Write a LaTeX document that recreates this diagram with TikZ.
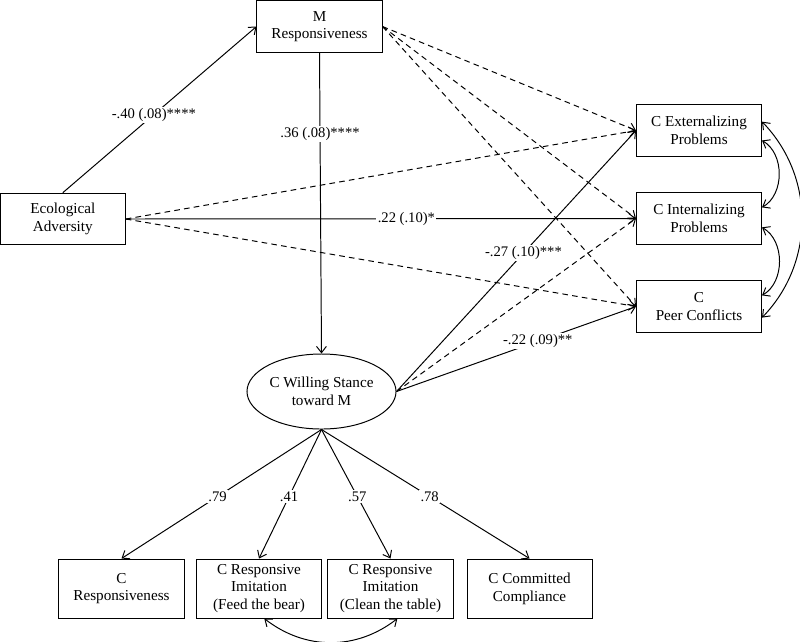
\documentclass[tikz,border=0pt]{standalone}
\usepackage{fontspec}
\setmainfont{Liberation Serif}
\usetikzlibrary{arrows.meta,shapes.geometric}

\begin{document}
\begin{tikzpicture}[x=0.025cm,y=0.025cm]
            \tikzstyle{varbox}=[draw,rectangle,line width=0.7pt,align=center,inner sep=1pt,minimum width=31.25mm,minimum height=12.9mm,font=\fontsize{10.8}{12.6}\selectfont]
            \tikzstyle{indbox}=[varbox,minimum height=14.75mm]
            \tikzstyle{latentvar}=[draw,ellipse,line width=0.7pt,align=center,inner sep=0pt,minimum width=37.25mm,minimum height=18.75mm,font=\fontsize{10.8}{12.6}\selectfont]
            \tikzstyle{regpath}=[line width=0.7pt,-{Straight Barb[length=4.5pt,width=7pt]}]
            \tikzstyle{nspath}=[regpath,dash pattern=on 4pt off 3pt]
            \tikzstyle{covpath}=[line width=0.7pt,{Straight Barb[length=4.5pt,width=7pt]}-{Straight Barb[length=4.5pt,width=7pt]}]
            \tikzstyle{coef}=[fill=white,inner sep=1pt,font=\fontsize{10.4}{12}\selectfont]

            \useasboundingbox (0,0) rectangle (800,-641);

            \node (MR) at (319.5,-26.5) [varbox] {M\\Responsiveness};
            \node (EA) at (62.8,-219) [varbox] {Ecological\\Adversity};
            \node (EXT) at (699,-130.5) [varbox] {C Externalizing\\Problems};
            \node (INT) at (699,-218.5) [varbox] {C Internalizing\\Problems};
            \node (PC) at (699,-306.5) [varbox] {C\\Peer Conflicts};
            \node (WS) at (321.5,-391.5) [latentvar] {C Willing Stance\\toward M};
            \node (CR) at (121.5,-588.5) [indbox] {C\\Responsiveness};
            \node (FB) at (259,-588.5) [indbox] {C Responsive\\Imitation\\(Feed the bear)};
            \node (CT) at (390.5,-588.5) [indbox] {C Responsive\\Imitation\\(Clean the table)};
            \node (CC) at (529.5,-588.5) [indbox] {C Committed\\Compliance};

            % non-significant paths
            \draw[nspath] (MR.east) to (EXT.west);
            \draw[nspath] (MR.east) to (INT.west);
            \draw[nspath] (MR.east) to (PC.west);
            \draw[nspath] (EA.east) to (EXT.west);
            \draw[nspath] (EA.east) to (PC.west);
            \draw[nspath] (WS.east) to (INT.west);

            % significant paths
            \draw[regpath] (EA.north) to node[coef,pos=0.47] {-.40 (.08)****} (MR.west);
            \draw[regpath] (MR.south) to node[coef,pos=0.27] {.36 (.08)****} (WS.north);
            \draw[regpath] (EA.east) to node[coef,pos=0.55] {.22 (.10)*} (INT.west);
            \draw[regpath] (WS.east) to node[coef,pos=0.53] {-.27 (.10)***} (EXT.west);
            \draw[regpath] (WS.east) to node[coef,pos=0.59] {-.22 (.09)**} (PC.west);

            % loadings
            \draw[regpath] (WS.south) to node[coef,pos=0.52] {.79} (CR.north);
            \draw[regpath] (WS.south) to node[coef,pos=0.52] {.41} (FB.north);
            \draw[regpath] (WS.south) to node[coef,pos=0.52] {.57} (CT.north);
            \draw[regpath] (WS.south) to node[coef,pos=0.52] {.78} (CC.north);

            % covariances
            \draw[covpath] (EXT.-9) to[bend left=60] (INT.10);
            \draw[covpath] (INT.-8) to[bend left=60] (PC.10);
            \draw[covpath] (EXT.8) to[bend left=44] (PC.-10);
            \draw[covpath] (FB.-80) to[bend right=38] (CT.-77);
          \end{tikzpicture}
\end{document}
